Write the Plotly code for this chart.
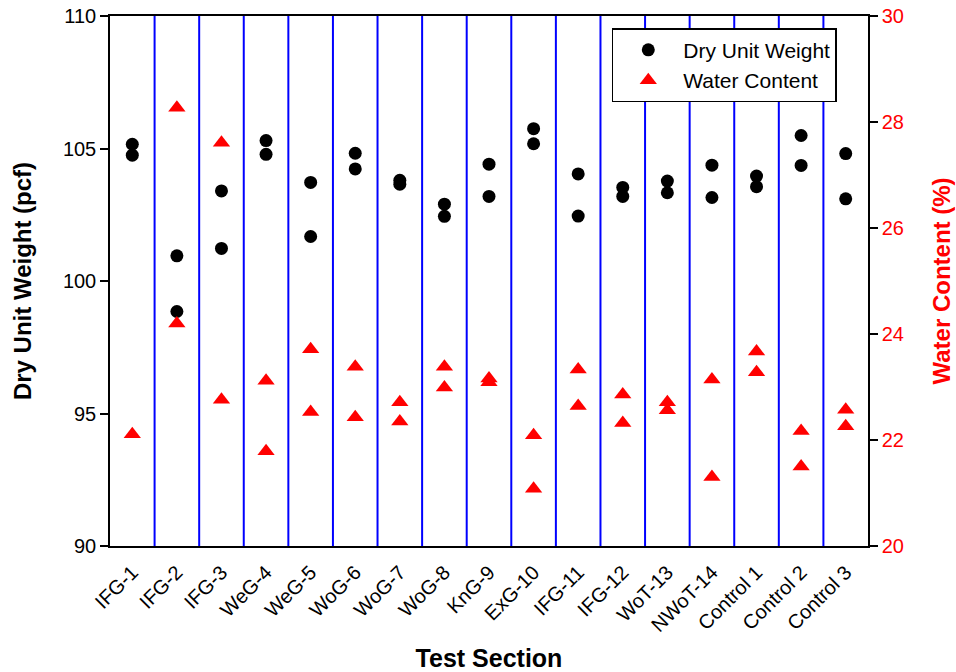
import plotly.graph_objects as go

# Test sections along the x axis
sections = ["IFG-1", "IFG-2", "IFG-3", "WeG-4", "WeG-5", "WoG-6", "WoG-7", "WoG-8",
            "KnG-9", "ExG-10", "IFG-11", "IFG-12", "WoT-13", "NWoT-14",
            "Control 1", "Control 2", "Control 3"]

# Two measurements per section
dry_unit_weight_a = [105.16, 100.95, 103.40, 105.30, 103.72, 104.82, 103.80, 102.90,
                     104.41, 105.75, 104.04, 103.53, 103.77, 104.37, 103.96, 105.49, 104.81]
dry_unit_weight_b = [104.75, 98.85, 101.23, 104.78, 101.68, 104.23, 103.65, 102.44,
                     103.19, 105.18, 102.45, 103.19, 103.33, 103.15, 103.56, 104.36, 103.10]

water_content_a = [22.11, 28.27, 27.61, 23.12, 23.71, 23.38, 22.71, 23.38,
                   23.16, 22.09, 23.33, 22.86, 22.71, 23.14, 23.67, 22.17, 22.57]
water_content_b = [None, 24.20, 22.76, 21.79, 22.53, 22.43, 22.35, 22.99,
                   23.09, 21.08, 22.64, 22.32, 22.56, 21.30, 23.28, 21.50, 22.26]

FONT = "Liberation Sans, Arial, sans-serif"
RED = "#FF0000"

x_all = sections + sections
duw_all = dry_unit_weight_a + dry_unit_weight_b
wc_x = [s for s, v in zip(x_all, water_content_a + water_content_b) if v is not None]
wc_all = [v for v in water_content_a + water_content_b if v is not None]

fig = go.Figure()
fig.add_trace(go.Scatter(
    x=x_all, y=duw_all, mode="markers", name="Dry Unit Weight",
    marker=dict(symbol="circle", size=13, color="black"),
    yaxis="y",
))
fig.add_trace(go.Scatter(
    x=wc_x, y=wc_all, mode="markers", name="Water Content",
    marker=dict(symbol="triangle-up", size=15, color=RED),
    yaxis="y2",
))

# Blue separators between test sections
for i in range(len(sections) - 1):
    fig.add_shape(type="line", xref="x", yref="paper",
                  x0=i + 0.5, x1=i + 0.5, y0=0, y1=1,
                  line=dict(color="#0000FF", width=2), layer="below")

fig.update_layout(
    width=956, height=672,
    margin=dict(l=110, r=88, t=16, b=126, autoexpand=False),
    paper_bgcolor="white", plot_bgcolor="white",
    font=dict(family=FONT, size=20, color="black"),
    showlegend=True,
    legend=dict(
        x=0.662, y=0.977, xanchor="left", yanchor="top",
        bgcolor="white", bordercolor="black", borderwidth=1.5,
        font=dict(family=FONT, size=21, color="black"),
        itemwidth=60,
    ),
    xaxis=dict(
        type="category", range=[-0.5, len(sections) - 0.5],
        categoryorder="array", categoryarray=sections,
        tickangle=-45, ticks="", showgrid=False, zeroline=False,
        ticklabelstandoff=5, automargin=False,
        showline=True, linecolor="black", linewidth=1.5, mirror=True,
        tickfont=dict(family=FONT, size=20, color="black"),
        title=dict(text="<b>Test Section</b>", standoff=14,
                   font=dict(family=FONT, size=25, color="black")),
    ),
    yaxis=dict(
        range=[90, 110], tickvals=[90, 95, 100, 105, 110],
        ticks="outside", ticklen=8, tickwidth=1.5, tickcolor="black",
        showgrid=False, zeroline=False, automargin=False,
        showline=True, linecolor="black", linewidth=1.5,
        tickfont=dict(family=FONT, size=20, color="black"),
        title=dict(text="<b>Dry Unit Weight (pcf)</b>", standoff=24,
                   font=dict(family=FONT, size=24, color="black")),
    ),
    yaxis2=dict(
        range=[20, 30], tickvals=[20, 22, 24, 26, 28, 30],
        overlaying="y", side="right",
        ticks="outside", ticklen=8, tickwidth=1.5, tickcolor="black",
        showgrid=False, zeroline=False, automargin=False,
        showline=True, linecolor="black", linewidth=1.5,
        tickfont=dict(family=FONT, size=20, color=RED),
        title=dict(text="<b>Water Content (%)</b>", standoff=30,
                   font=dict(family=FONT, size=24, color=RED)),
    ),
)

fig.write_html("out.html")
